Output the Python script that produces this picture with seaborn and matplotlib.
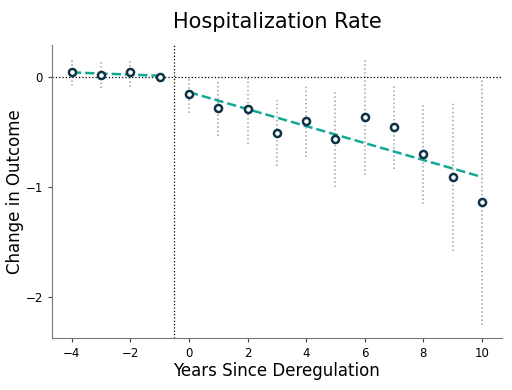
import numpy as np
import pandas as pd
import matplotlib
matplotlib.use("Agg")
import matplotlib.pyplot as plt
import seaborn as sns

# event-study estimates
years = [-4, -3, -2, -1, 0, 1, 2, 3, 4, 5, 6, 7, 8, 9, 10]
coef = [0.04, 0.02, 0.04, 0.0, -0.155, -0.285, -0.295, -0.506, -0.397,
        -0.564, -0.364, -0.455, -0.70, -0.906, -1.134]
ci_low = [-0.08, -0.10, -0.09, 0.0, -0.33, -0.54, -0.61, -0.81, -0.73,
          -1.00, -0.89, -0.84, -1.15, -1.58, -2.25]
ci_high = [0.15, 0.13, 0.15, 0.0, -0.01, -0.04, 0.02, -0.21, -0.07,
           -0.14, 0.16, -0.075, -0.25, -0.24, -0.03]

df = pd.DataFrame({"year": years, "coef": coef, "lo": ci_low, "hi": ci_high})
pre = df[df["year"] < 0]
post = df[df["year"] >= 0]

sns.set_style("ticks", {"text.color": "black", "axes.labelcolor": "black",
                        "xtick.color": "#444444", "ytick.color": "#444444"})
fig = plt.figure(figsize=(5.12, 3.9), dpi=100)
ax = fig.add_axes([0.1016, 0.133, 0.8784, 0.752])

# confidence intervals
ax.vlines(df["year"], df["lo"], df["hi"], colors="#a0a0a0", linestyles=":", linewidth=1.1, zorder=1)

ax.axhline(0, color="black", linestyle=":", linewidth=0.9, zorder=1)
ax.axvline(-0.5, color="black", linestyle=":", linewidth=0.9, zorder=1)

# linear trends pre / post
for part in [pre, post]:
    sns.regplot(x="year", y="coef", data=part, ci=None, scatter=False, ax=ax,
                line_kws={"color": "#12a896", "linestyle": "--", "linewidth": 1.8, "zorder": 2})

sns.scatterplot(x="year", y="coef", data=df, ax=ax, s=26, color="white",
                edgecolor="#0e3347", linewidth=1.8, zorder=3)

ax.set_xlim(-4.68, 10.68)
ax.set_ylim(-2.37, 0.29)
ax.set_xticks([-4, -2, 0, 2, 4, 6, 8, 10])
ax.set_yticks([0, -1, -2])
ax.tick_params(labelsize=8.5, length=3, labelcolor="black")
for side in ["left", "bottom"]:
    ax.spines[side].set_color("#777777")
sns.despine(ax=ax)

ax.set_xlabel("Years Since Deregulation", fontsize=12, labelpad=1)
ax.set_ylabel("Change in Outcome", fontsize=12, labelpad=1)
ax.set_title("Hospitalization Rate", fontsize=15, pad=12)

fig.savefig("out.png", dpi=100)
